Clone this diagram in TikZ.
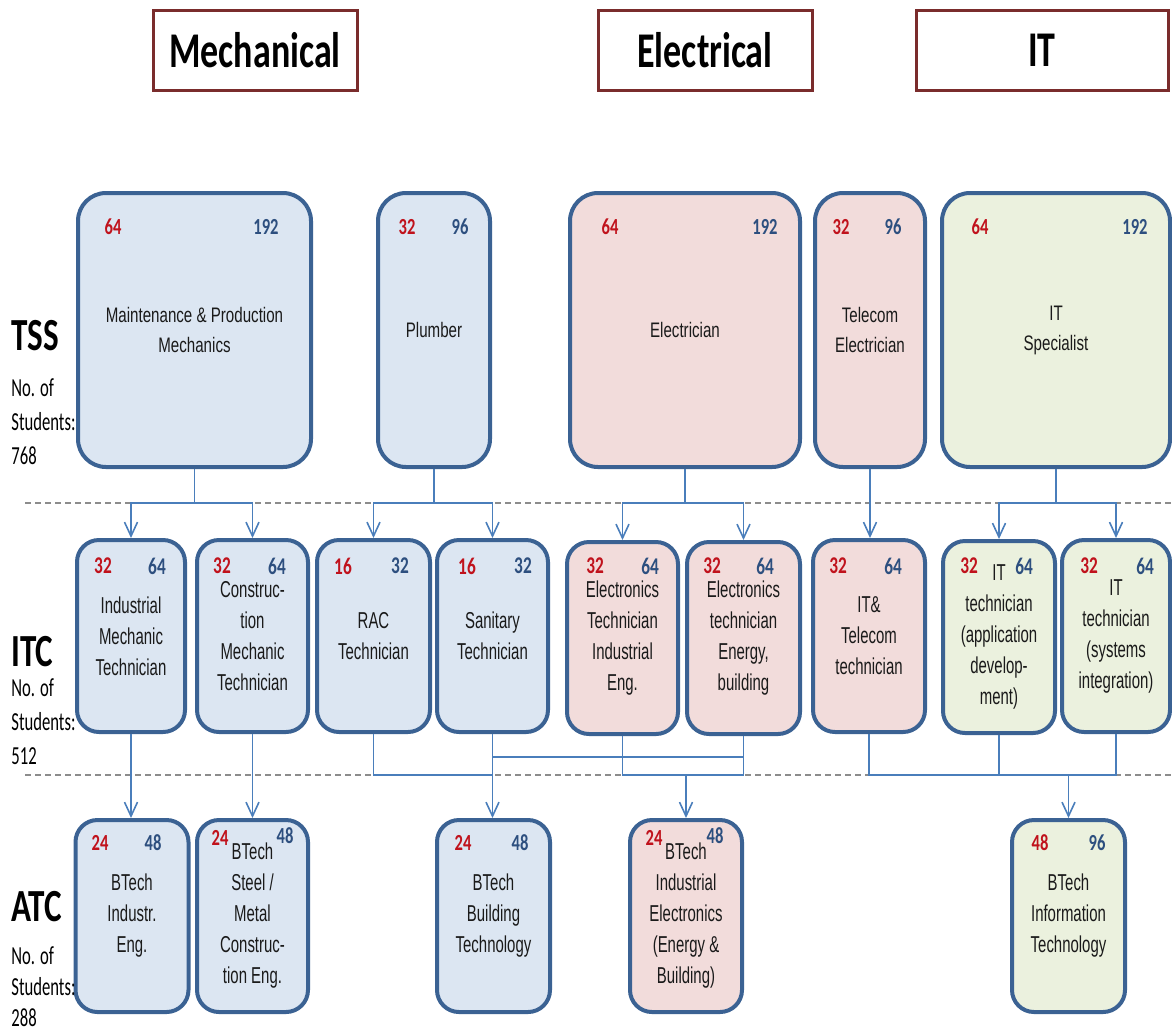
\documentclass[tikz,border=0pt]{standalone}
\usepackage{fontspec}
\usetikzlibrary{arrows.meta}
\newfontfamily\bodyfont[FakeStretch=0.72]{Liberation Sans}
\newfontfamily\boxfont[FakeStretch=0.65]{Liberation Sans}
\newfontfamily\headfont[FakeStretch=0.72]{Carlito}
\newfontfamily\sidefont[FakeStretch=0.64]{Carlito}
\definecolor{mechfill}{HTML}{DCE6F2}
\definecolor{elecfill}{HTML}{F2DCDB}
\definecolor{itfill}{HTML}{EBF1DE}
\definecolor{boxborder}{HTML}{3B6293}
\definecolor{connblue}{HTML}{4A7EBB}
\definecolor{numred}{HTML}{C0121C}
\definecolor{numblue}{HTML}{2D4F7F}
\definecolor{sepgray}{HTML}{8C8C8C}
\definecolor{headborder}{HTML}{7A2C2C}
\definecolor{txt}{HTML}{1A1A1A}
\tikzset{
  box/.style={draw=boxborder, line width=2pt, align=center, inner sep=0pt, text=txt},
  tssbox/.style={box, minimum height=137pt, rounded corners=14pt, font=\bodyfont\fontsize{10.5}{15}\selectfont},
  itcbox/.style={box, minimum height=96pt, rounded corners=11pt, font=\boxfont\fontsize{11.5}{15.5}\selectfont},
  atcbox/.style={box, minimum height=96pt, rounded corners=11pt, font=\boxfont\fontsize{11.5}{15.5}\selectfont},
  headbox/.style={draw=headborder, line width=1.5pt, fill=white, minimum height=40pt, inner sep=0pt, font=\headfont\bfseries\fontsize{25}{30}\selectfont},
  numl/.style={text=numred, inner sep=0pt, font=\headfont\bfseries\fontsize{#1}{#1}\selectfont},
  numr/.style={text=numblue, inner sep=0pt, font=\headfont\bfseries\fontsize{#1}{#1}\selectfont},
  lvl/.style={anchor=west, inner sep=0pt, font=\headfont\bfseries\fontsize{23}{23}\selectfont},
  lsm/.style={anchor=west, inner sep=0pt, align=left, font=\sidefont\fontsize{13}{17}\selectfont},
  sep/.style={draw=sepgray, line width=1pt, dash pattern=on 3pt off 2pt},
  conn/.style={draw=connblue, line width=0.8pt},
  arr/.style={conn, -{Straight Barb[length=7pt,width=6.5pt,line width=0.8pt]}}
}
\begin{document}
\begin{tikzpicture}[x=0.5pt,y=-0.5pt]
\useasboundingbox (0,0) rectangle (1172,1034);
% headers
\node[headbox, minimum width=102pt] (hmech) at (255,50) {Mechanical};
\node[headbox, minimum width=107pt] (helec) at (705,50) {Electrical};
\node[headbox, minimum width=126pt] (hit) at (1042,50) {IT};
% separators
\coordinate (tssline) at (0,503);
\coordinate (itcline) at (0,775);
\coordinate (midline) at (0,757);
\draw[sep] (25,503) -- (1172,503);
\draw[sep] (25,775) -- (1172,775);
% TSS boxes
\node[tssbox, fill=mechfill, minimum width=116.5pt] (mpm) at (194.5,330) {Maintenance \& Production\\Mechanics};
\node[tssbox, fill=mechfill, minimum width=56pt] (plu) at (434,330) {Plumber};
\node[tssbox, fill=elecfill, minimum width=115pt] (ele) at (685,330) {Electrician};
\node[tssbox, fill=elecfill, minimum width=55pt] (tel) at (870,330) {Telecom\\Electrician};
\node[tssbox, fill=itfill, minimum width=114pt] (its0) at (1056,330) {IT\\Specialist};
\node[numl=11.5] (n1a) at (113,227) {64};   \node[numr=11.5] (n1b) at (266,227) {192};
\node[numl=11.5] (n2a) at (407,227) {32};   \node[numr=11.5] (n2b) at (460,227) {96};
\node[numl=11.5] (n3a) at (610,227) {64};   \node[numr=11.5] (n3b) at (765,227) {192};
\node[numl=11.5] (n4a) at (841,227) {32};   \node[numr=11.5] (n4b) at (893,227) {96};
\node[numl=11.5] (n5a) at (980,227) {64};   \node[numr=11.5] (n5b) at (1135,227) {192};
% ITC boxes
\node[itcbox, fill=mechfill, minimum width=54pt] (imt) at (131,636) {Industrial\\Mechanic\\Technician};
\node[itcbox, fill=mechfill, minimum width=55.5pt] (cmt) at (252.5,636) {Construc-\\tion\\Mechanic\\Technician};
\node[itcbox, fill=mechfill, minimum width=56.5pt] (rac) at (373.5,636) {RAC\\Technician};
\node[itcbox, fill=mechfill, minimum width=55.5pt] (san) at (492.5,636) {Sanitary\\Technician};
\node[itcbox, fill=elecfill, minimum width=55.5pt] (ei) at (622.5,638) {Electronics\\Technician\\Industrial\\Eng.};
\node[itcbox, fill=elecfill, minimum width=56.5pt] (ee) at (743.5,638) {Electronics\\technician\\Energy,\\building};
\node[itcbox, fill=elecfill, minimum width=56pt] (itt) at (869,636) {IT\&\\Telecom\\technician};
\node[itcbox, fill=itfill, minimum width=56pt] (ita) at (999,637) {IT\\technician\\(application\\develop-\\ment)};
\node[itcbox, fill=itfill, minimum width=54pt] (its) at (1116,636) {IT\\technician\\(systems\\integration)};
\node[numl=12] (m1a) at (103,566) {32};  \node[numr=12] (m1b) at (157,566) {64};
\node[numl=12] (m2a) at (222,566) {32};  \node[numr=12] (m2b) at (277,566) {64};
\node[numl=12] (m3a) at (343,566) {16};  \node[numr=12] (m3b) at (400,566) {32};
\node[numl=12] (m4a) at (467,566) {16};  \node[numr=12] (m4b) at (523,566) {32};
\node[numl=12] (m5a) at (595,566) {32};  \node[numr=12] (m5b) at (650,566) {64};
\node[numl=12] (m6a) at (712,566) {32};  \node[numr=12] (m6b) at (765,566) {64};
\node[numl=12] (m7a) at (838,566) {32};  \node[numr=12] (m7b) at (893,566) {64};
\node[numl=12] (m8a) at (969,566) {32};  \node[numr=12] (m8b) at (1024,566) {64};
\node[numl=12] (m9a) at (1089,566) {32}; \node[numr=12] (m9b) at (1145,566) {64};
% ATC boxes
\node[atcbox, fill=mechfill, minimum width=56.5pt] (atc1) at (132,916) {BTech\\Industr.\\Eng.};
\node[atcbox, fill=mechfill, minimum width=55.5pt] (atc2) at (252.5,916) {BTech\\Steel /\\Metal\\Construc-\\tion Eng.};
\node[atcbox, fill=mechfill, minimum width=56.5pt] (atcb) at (493.5,916) {BTech\\Building\\Technology};
\node[atcbox, fill=elecfill, minimum width=56pt] (atce) at (686,916) {BTech\\Industrial\\Electronics\\(Energy \&\\Building)};
\node[atcbox, fill=itfill, minimum width=56.5pt] (atci) at (1068.5,916) {BTech\\Information\\Technology};
\node[numl=11.5] (a1a) at (100,843) {24};  \node[numr=11.5] (a1b) at (153,843) {48};
\node[numl=11.5] (a2a) at (220,838) {24};  \node[numr=11.5] (a2b) at (285,836) {48};
\node[numl=11.5] (a3a) at (463,843) {24};  \node[numr=11.5] (a3b) at (520,843) {48};
\node[numl=11.5] (a4a) at (654,838) {24};  \node[numr=11.5] (a4b) at (715,836) {48};
\node[numl=11.5] (a5a) at (1040,843) {48}; \node[numr=11.5] (a5b) at (1097,843) {96};
% level labels (drawn over the box edges, as in the reference)
\node[lvl] (ltss) at (11,336) {TSS};
\node[lsm] (ltssn) at (11,422) {No. of\\Students:\\768};
\node[lvl] (litc) at (11,652) {ITC};
\node[lsm] (litcn) at (11,722) {No. of\\Students:\\512};
\node[lvl] (latc) at (11,907) {ATC};
\node[lsm, font=\sidefont\fontsize{13}{15.5}\selectfont] (latcn) at (11,987) {No. of\\Students:\\288};
% TSS -> ITC connectors
\draw[conn] (mpm.south) -- (mpm.south |- tssline);
\draw[arr] (mpm.south |- tssline) -| (imt.north);
\draw[arr] (mpm.south |- tssline) -| (cmt.north);
\draw[conn] (plu.south) -- (plu.south |- tssline);
\draw[arr] (plu.south |- tssline) -| (rac.north);
\draw[arr] (plu.south |- tssline) -| (san.north);
\draw[conn] (ele.south) -- (ele.south |- tssline);
\draw[arr] (ele.south |- tssline) -| (ei.north);
\draw[arr] (ele.south |- tssline) -| (ee.north);
\draw[arr] (tel.south) -- (tel.south |- itt.north);
\draw[conn] (its0.south) -- (its0.south |- tssline);
\draw[arr] (its0.south |- tssline) -| (ita.north);
\draw[arr] (its0.south |- tssline) -| (its.north);
% ITC -> ATC connectors
\draw[arr] (imt.south) -- (imt.south |- atc1.north);
\draw[arr] (cmt.south) -- (cmt.south |- atc2.north);
\draw[conn] (rac.south) -- (rac.south |- itcline) -- (san.south |- itcline);
\draw[arr] (san.south) -- (san.south |- atcb.north);
\draw[conn] (san.south |- midline) -- (ee.south |- midline);
\draw[conn] (ei.south) -- (ei.south |- itcline) -- (ee.south |- itcline) -- (ee.south);
\draw[arr] (atce.north |- itcline) -- (atce.north);
\draw[conn] (itt.south) -- (itt.south |- itcline) -- (its.south |- itcline) -- (its.south);
\draw[conn] (ita.south) -- (ita.south |- itcline);
\draw[arr] (atci.north |- itcline) -- (atci.north);
\end{tikzpicture}
\end{document}
